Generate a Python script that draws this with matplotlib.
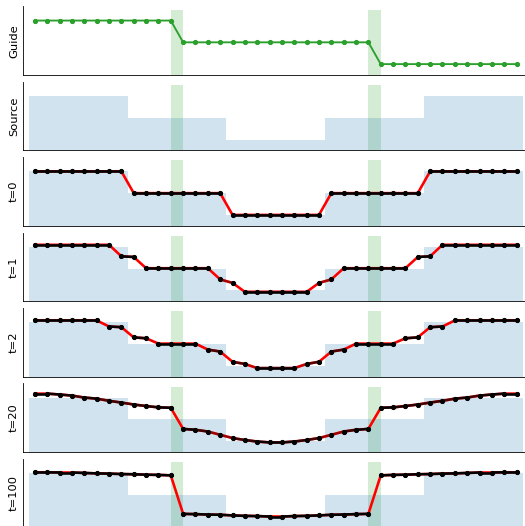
import numpy as np
import matplotlib
matplotlib.use("Agg")
import matplotlib.pyplot as plt
from matplotlib.collections import LineCollection

# guide signal and source blocks
guide = [3, 3, 3, 3, 3, 3, 3, 3, 3, 3, 3, 3,
         2, 2, 2, 2, 2, 2, 2, 2, 2, 2, 2, 2, 2, 2, 2, 2,
         1, 1, 1, 1, 1, 1, 1, 1, 1, 1, 1, 1]
source_levels = [3, 2, 1, 2, 3]
source_centers = [3.5, 11.5, 19.5, 27.5, 35.5]
guide_edges = [11.5, 27.5]

# diffused signal at several steps
t0 = [3, 3, 3, 3, 3, 3, 3, 3, 2, 2, 2, 2, 2, 2, 2, 2, 1, 1, 1, 1,
      1, 1, 1, 1, 2, 2, 2, 2, 2, 2, 2, 2, 3, 3, 3, 3, 3, 3, 3, 3]
t1 = [3.09, 3.09, 3.09, 3.09, 3.09, 3.09, 3.09, 2.56, 2.53, 2.015,
      2.015, 2.015, 2.015, 2.015, 2.015, 1.5, 1.34, 0.93, 0.93, 0.93,
      0.93, 0.93, 0.93, 1.34, 1.5, 2.015, 2.015, 2.015, 2.015, 2.015,
      2.015, 2.53, 2.56, 3.09, 3.09, 3.09, 3.09, 3.09, 3.09, 3.09]
t2 = [3.08, 3.08, 3.08, 3.08, 3.08, 3.08, 2.80, 2.77, 2.30, 2.26,
      2.015, 2.015, 2.015, 2.015, 1.74, 1.65, 1.18, 1.08, 0.89, 0.89,
      0.89, 0.89, 1.08, 1.18, 1.65, 1.74, 2.015, 2.015, 2.015, 2.015,
      2.26, 2.30, 2.77, 2.80, 3.08, 3.08, 3.08, 3.08, 3.08, 3.08]
t20 = [3.18, 3.18, 3.14, 3.09, 3.00, 2.95, 2.85, 2.77, 2.68, 2.61,
       2.55, 2.53, 1.56, 1.52, 1.44, 1.29, 1.14, 1.05, 0.98, 0.94,
       0.94, 0.98, 1.05, 1.14, 1.29, 1.44, 1.52, 1.56, 2.53, 2.55,
       2.61, 2.68, 2.77, 2.85, 2.95, 3.00, 3.09, 3.14, 3.18, 3.18]
t100 = [3.03, 3.03, 3.02, 3.02, 3.00, 2.98, 2.97, 2.95, 2.94, 2.92,
        2.91, 2.89, 1.12, 1.11, 1.09, 1.08, 1.05, 1.03, 1.02, 1.00,
        1.00, 1.02, 1.03, 1.05, 1.08, 1.09, 1.11, 1.12, 2.89, 2.91,
        2.92, 2.94, 2.95, 2.97, 2.98, 3.00, 3.02, 3.02, 3.03, 3.03]

rows = ["Guide", "Source", "t=0", "t=1", "t=2", "t=20", "t=100"]
steps = {"t=0": t0, "t=1": t1, "t=2": t2, "t=20": t20, "t=100": t100}

W, H = 525, 526
fig = plt.figure(figsize=(W / 75, H / 75), dpi=75)

x = np.arange(len(guide))
left_px, right_px = 23.2, 525
ax_h = 68.6
pitch = 75.4


def add_spans(ax):
    ax.bar(guide_edges, [3.5, 3.5], width=1, color="tab:green", alpha=0.2, linewidth=0)


def add_source(ax):
    ax.bar(source_centers, source_levels, width=8, color="tab:blue", alpha=0.2, linewidth=0)


def plot_signal(ax, vals):
    vals = np.asarray(vals, dtype=float)
    ax.plot(x, vals, color="red", lw=2.5, zorder=3)
    pts = np.column_stack([x, vals])
    segs = np.stack([pts[:-1], pts[1:]], axis=1)
    # segments between near-equal neighbours are drawn dark
    a = np.exp(-(np.abs(np.diff(vals)) / 0.15) ** 2)
    cols = np.zeros((len(a), 4))
    cols[:, 3] = a
    ax.add_collection(LineCollection(segs, colors=cols, linewidths=2.5, zorder=4))
    ax.plot(x, vals, "o", color="black", ms=4, zorder=5)


for i, name in enumerate(rows):
    bottom_px = 75 + i * pitch
    ax = fig.add_axes([left_px / W, 1 - bottom_px / H,
                       (right_px - left_px) / W, ax_h / H])
    add_spans(ax)
    if name == "Guide":
        ax.plot(x, guide, "o-", color="tab:green", ms=4, lw=1.8, zorder=3)
    else:
        add_source(ax)
        if name in steps:
            plot_signal(ax, steps[name])
    ax.set_xlim(-0.95, -0.95 + (right_px - left_px) / 12.35)
    ax.set_ylim(0.5, 3.65)
    ax.set_xticks([])
    ax.set_yticks([])
    ax.spines["top"].set_visible(False)
    ax.spines["right"].set_visible(False)
    ax.set_ylabel(name, fontsize=11)

fig.savefig("out.png", dpi=75)
